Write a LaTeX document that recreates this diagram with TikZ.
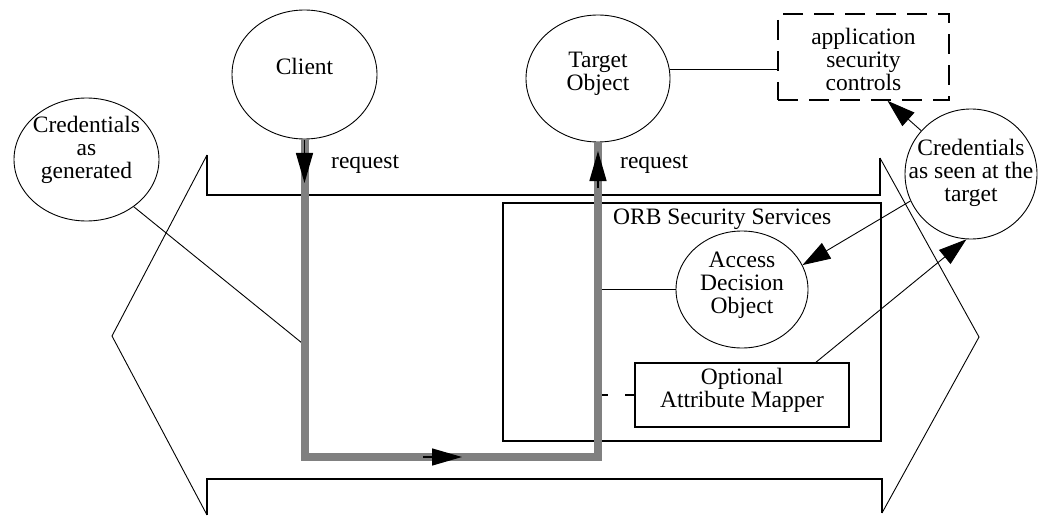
\documentclass[tikz,border=0pt]{standalone}
\usepackage{fontspec}
\setmainfont{Liberation Serif}
\usetikzlibrary{arrows.meta,shapes.geometric,calc}
\begin{document}
\begin{tikzpicture}[x=1pt,y=-1pt,
  every node/.style={font=\fontsize{23.5}{23}\selectfont},
  ell/.style={draw,ellipse,line width=0.9pt,inner sep=0pt},
  txt/.style={align=center,inner sep=0pt},
  box/.style={draw,rectangle,line width=1.6pt,inner sep=0pt},
  dashbox/.style={draw,rectangle,line width=1.6pt,inner sep=0pt,dash pattern=on 20pt off 11pt},
  conn/.style={line width=0.9pt},
  bigarr/.style={line width=0.9pt,-{Triangle[length=28pt,width=18pt]}},
  flowarr/.style={line width=1.4pt,-{Triangle[length=30pt,width=17pt]}},
  flow/.style={line width=8pt,black!50,line join=miter},
  heavy/.style={line width=1.6pt},
  light/.style={line width=0.9pt}]
\useasboundingbox (0,0) rectangle (1052,516);

% banner outline
\draw[heavy] (207,155) -- (207,195) -- (880,195) -- (880,158);
\draw[light] (880,158) -- (979,337) -- (882,513);
\draw[heavy] (882,513) -- (882,479) -- (207,479) -- (207,515);
\draw[light] (207,515) -- (112,336) -- (207,155);

% ORB box
\node[box,minimum width=378pt,minimum height=238pt] (orb) at (692,322) {};
\node[anchor=base west,inner sep=0pt] (orbt) at (613,224) {ORB Security Services};

% ellipses
\node[ell,minimum width=145pt,minimum height=129pt] (client) at (304.5,74.5) {};
\node[txt] (clientt) at (304.5,66) {Client};
\node[ell,minimum width=144pt,minimum height=127pt] (target) at (598,78.5) {};
\node[txt] (targett) at (598,74) {Target\\Object};
\node[ell,minimum width=145pt,minimum height=123pt] (credgen) at (86.5,159.5) {};
\node[txt] (credgent) at (86.5,150) {Credentials\\as\\generated};
\node[ell,minimum width=132pt,minimum height=130pt] (credseen) at (971,174) {};
\node[txt] (credseent) at (971,173) {Credentials\\as seen at the\\target};
\node[ell,minimum width=132pt,minimum height=117pt] (access) at (742,289.5) {};
\node[txt] (accesst) at (742,285) {Access\\Decision\\Object};

% boxes
\node[dashbox,minimum width=171pt,minimum height=86pt] (app) at (863.5,57) {};
\node[txt] (appt) at (863.5,59) {application\\security\\controls};
\node[box,minimum width=214pt,minimum height=64pt] (mapper) at (742,395) {};
\node[txt] (mappert) at (742,390.5) {Optional\\Attribute Mapper};

% labels
\node[anchor=base west,inner sep=0pt] (req1) at (331,168) {request};
\node[anchor=base west,inner sep=0pt] (req2) at (620,168) {request};

% thin connectors
\coordinate (gA) at (302,343);
\coordinate (gy) at (0,457);
\draw[conn] (credgen.315.6) -- (gA);
\draw[conn] (target.7.6) -- (target.7.6 -| app.west);
\draw[conn] (access.west -| target.south) -- (access.west);
\draw[line width=1.4pt,dash pattern=on 10pt off 17pt] (mapper.west -| target.south) -- (mapper.west);
\draw[bigarr] (credseen.139) -- ($(app.south)+(24,0)$);
\draw[bigarr] (credseen.204.6) -- (access.22);
\draw[bigarr] ($(mapper.north)+(74,0)$) -- (credseen.266.5);

% request flow
\draw[flow] (client.south) -- (client.south |- gy) -- (target.south |- gy) -- (target.south);
\coordinate (f1s) at (304.5,140);
\coordinate (f1e) at (304.5,183);
\coordinate (f2s) at (423,457);
\coordinate (f2e) at (462,457);
\coordinate (f3s) at (598,188);
\coordinate (f3e) at (598,151);
\draw[flowarr] (f1s) -- (f1e);
\draw[flowarr] (f2s) -- (f2e);
\draw[flowarr] (f3s) -- (f3e);
\end{tikzpicture}
\end{document}
